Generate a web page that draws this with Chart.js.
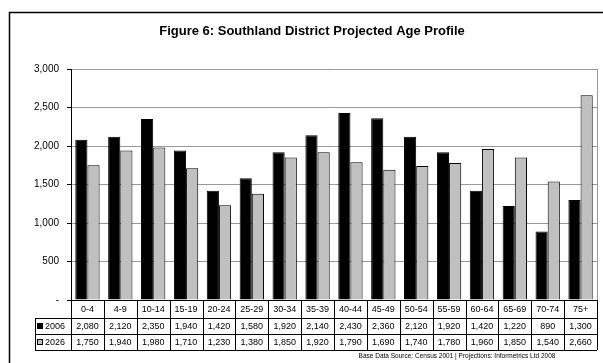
<!DOCTYPE html>
<html>
<head>
<meta charset="utf-8">
<script src="https://cdn.jsdelivr.net/npm/chart.js@4.4.0/dist/chart.umd.min.js"></script>
<style>
  html, body { margin: 0; padding: 0; background: #fff; }
  #wrap { position: relative; width: 603px; height: 363px; }
</style>
</head>
<body>
<div id="wrap"><canvas id="ageChart" width="603" height="363"></canvas></div>
<script>
// Age groups and population counts
const ageGroups = ['0-4', '4-9', '10-14', '15-19', '20-24', '25-29', '30-34', '35-39',
  '40-44', '45-49', '50-54', '55-59', '60-64', '65-69', '70-74', '75+'];
const pop2006 = [2080, 2120, 2350, 1940, 1420, 1580, 1920, 2140, 2430, 2360, 2120, 1920, 1420, 1220, 890, 1300];
const pop2026 = [1750, 1940, 1980, 1710, 1230, 1380, 1850, 1920, 1790, 1690, 1740, 1780, 1960, 1850, 1540, 2660];
const seriesNames = ['2006', '2026'];
const yTicks = [0, 500, 1000, 1500, 2000, 2500, 3000];

const titleText = 'Figure 6: Southland District Projected Age Profile';
const sourceText = 'Base Data Source: Census 2001 | Projections: Informetrics Ltd 2008';

const fmt = v => v.toLocaleString('en-US');

// draws the frame, title, data table and source line
const tablePlugin = {
  id: 'dataTable',
  beforeDraw(chart) {
    const c = chart.ctx;
    c.save();
    c.strokeStyle = '#000';
    c.lineWidth = 1.5;
    c.strokeRect(9.5, 12.5, 640, 400);
    c.restore();
  },
  afterDraw(chart) {
    const c = chart.ctx;
    const area = chart.chartArea;
    const x = chart.scales.x;
    const colW = area.width / ageGroups.length;
    const rowH = [18, 16, 16];
    const top = area.bottom;
    const legendLeft = 35;

    c.save();
    // title
    c.fillStyle = '#000';
    c.font = 'bold 13px "Liberation Sans", Arial, sans-serif';
    c.textAlign = 'center';
    c.textBaseline = 'middle';
    c.fillText(titleText, 312, 31);

    // right border of plot area
    c.strokeStyle = '#999';
    c.lineWidth = 1;
    c.beginPath();
    c.moveTo(Math.round(area.right) + 0.5, area.top);
    c.lineTo(Math.round(area.right) + 0.5, area.bottom);
    c.stroke();

    // table grid
    c.strokeStyle = '#000';
    c.lineWidth = 1;
    const y1 = top + rowH[0];
    const y2 = y1 + rowH[1];
    const y3 = y2 + rowH[2];
    c.beginPath();
    c.moveTo(area.left, Math.round(top) + 0.5);
    c.lineTo(area.right, Math.round(top) + 0.5);
    [y1, y2, y3].forEach(y => {
      c.moveTo(legendLeft, Math.round(y) + 0.5);
      c.lineTo(area.right, Math.round(y) + 0.5);
    });
    for (let i = 0; i <= ageGroups.length; i++) {
      const px = Math.round(area.left + i * colW) + 0.5;
      c.moveTo(px, top);
      c.lineTo(px, y3);
    }
    c.moveTo(legendLeft + 0.5, y1);
    c.lineTo(legendLeft + 0.5, y3);
    c.stroke();

    // table text
    c.fillStyle = '#000';
    c.textAlign = 'center';
    c.font = '9px "Liberation Sans", Arial, sans-serif';
    ageGroups.forEach((g, i) => {
      const cx = x.getPixelForValue(i);
      c.fillText(g, cx, top + rowH[0] / 2 + 1);
      c.fillText(fmt(pop2006[i]), cx, y1 + rowH[1] / 2 + 1);
      c.fillText(fmt(pop2026[i]), cx, y2 + rowH[2] / 2 + 1);
    });

    // legend keys
    const keyColors = ['#000', '#c0c0c0'];
    c.textAlign = 'left';
    seriesNames.forEach((s, k) => {
      const cy = y1 + rowH[1] * k + rowH[1] / 2;
      c.fillStyle = keyColors[k];
      c.fillRect(37, cy - 3, 6, 6);
      c.strokeStyle = '#000';
      c.strokeRect(37.5, cy - 2.5, 5, 5);
      c.fillStyle = '#000';
      c.fillText(s, 45, cy + 1);
    });

    // source line
    c.font = '6.5px "Liberation Sans", Arial, sans-serif';
    c.textAlign = 'center';
    c.fillText(sourceText, 457, 356);
    c.restore();
  }
};

new Chart(document.getElementById('ageChart'), {
  type: 'bar',
  data: {
    labels: ageGroups,
    datasets: [
      {
        label: seriesNames[0],
        data: pop2006,
        backgroundColor: '#000',
        borderColor: '#000',
        borderWidth: 1
      },
      {
        label: seriesNames[1],
        data: pop2026,
        backgroundColor: '#c0c0c0',
        borderColor: '#000',
        borderWidth: 1
      }
    ]
  },
  options: {
    responsive: false,
    animation: false,
    devicePixelRatio: 1,
    layout: { padding: { left: 0, top: 69, right: 6, bottom: 63 } },
    datasets: { bar: { categoryPercentage: 0.74, barPercentage: 1 } },
    plugins: {
      legend: { display: false },
      title: { display: false },
      tooltip: { enabled: false }
    },
    scales: {
      x: { display: false },
      y: {
        min: 0,
        max: 3000,
        afterBuildTicks: axis => { axis.ticks = yTicks.map(v => ({ value: v })); },
        afterFit: axis => { axis.width = 71; },
        border: { color: '#000', width: 1 },
        grid: { color: '#999', tickColor: '#000', tickLength: 4, lineWidth: 1 },
        ticks: {
          color: '#000',
          padding: 8,
          font: { family: '"Liberation Sans", Arial, sans-serif', size: 10 },
          callback: v => v === 0 ? '-' : fmt(v)
        }
      }
    }
  },
  plugins: [tablePlugin]
});
</script>
</body>
</html>
